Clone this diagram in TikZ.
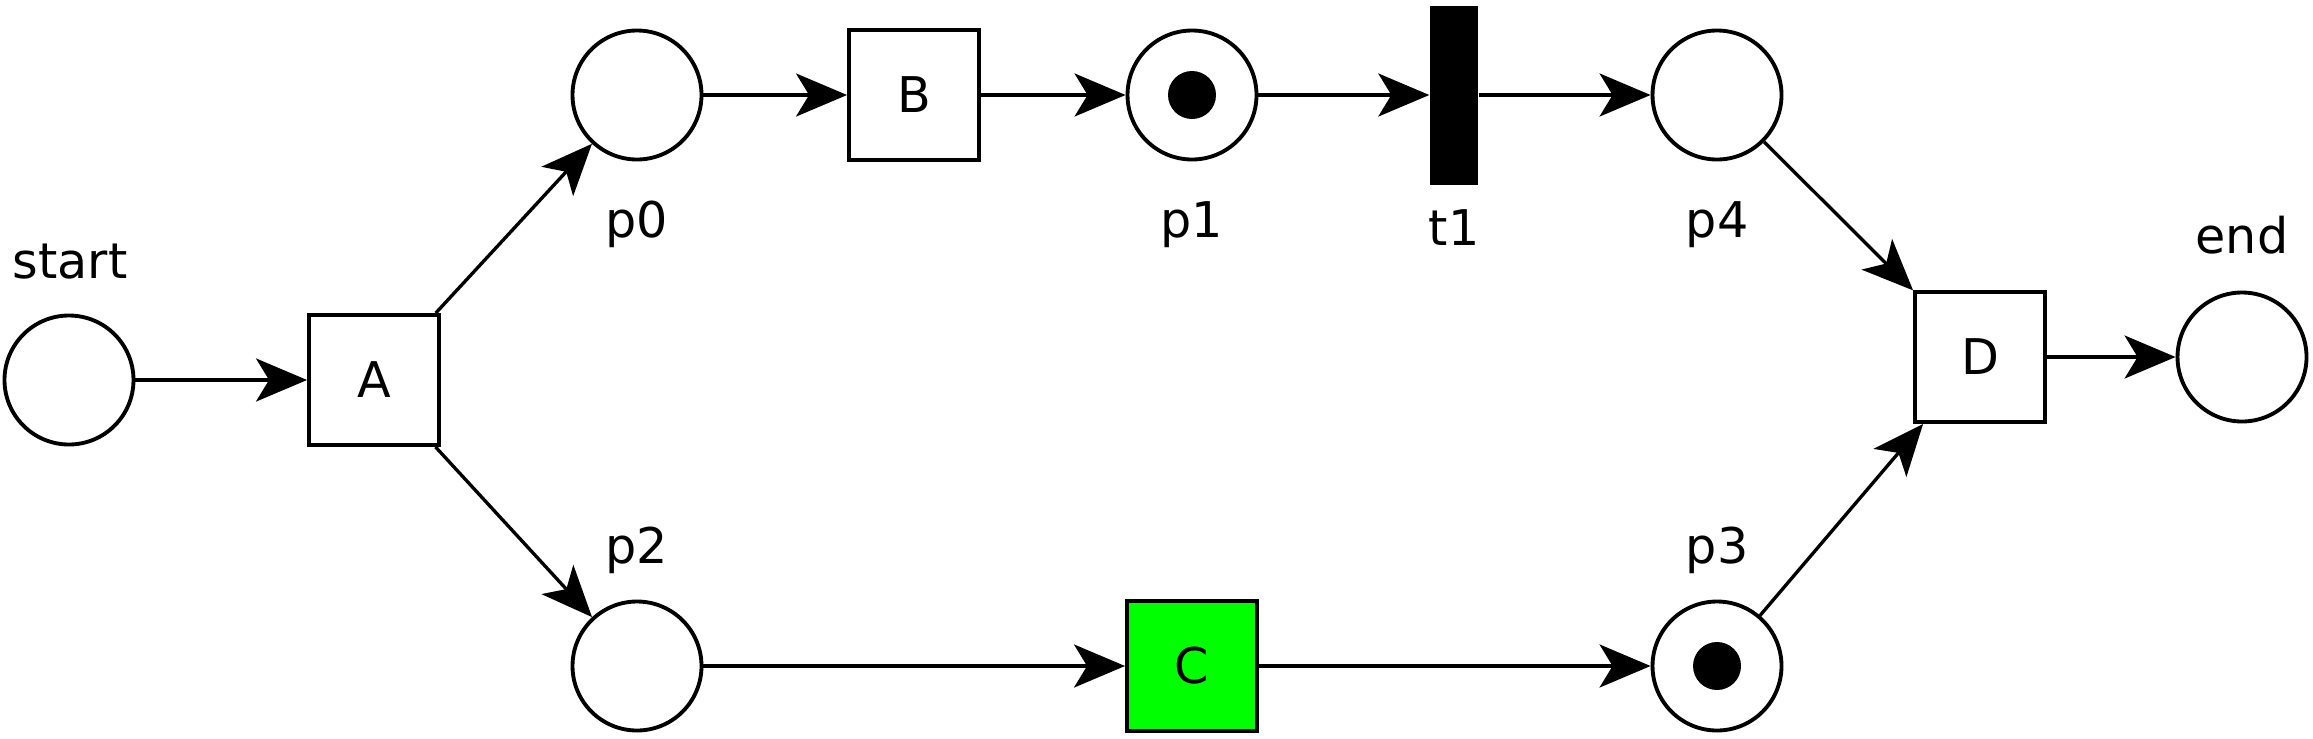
\documentclass[tikz,border=0pt]{standalone}
\usepackage{fontspec}
\setmainfont{DejaVu Sans}
\usetikzlibrary{arrows.meta}

\begin{document}
\begin{tikzpicture}[
  every node/.style={font=\fontsize{14}{17}\selectfont},
  place/.style={draw, circle, line width=1.1pt, minimum size=1.29cm, inner sep=0pt},
  trans/.style={draw, rectangle, line width=1.1pt, minimum size=1.30cm, inner sep=0pt},
  bar/.style={fill=black, minimum width=0.48cm, minimum height=1.79cm, inner sep=0pt},
  lbl/.style={anchor=base},
  arc/.style={line width=0.95pt, -{Stealth[length=0.51cm, width=0.43cm, inset=0.13cm]}}
]
\useasboundingbox (0,0) rectangle (23.13,7.38);
\node[place] (start) at (0.69,3.58) {};
\node[trans] (A) at (3.74,3.58) {A};
\node[place] (p0) at (6.37,6.43) {};
\node[trans] (B) at (9.14,6.43) {B};
\node[place] (p1) at (11.92,6.43) {};
\node[bar] (t1) at (14.54,6.43) {};
\node[place] (p4) at (17.17,6.43) {};
\node[trans] (D) at (19.80,3.81) {D};
\node[place] (end) at (22.42,3.81) {};
\node[place] (p2) at (6.37,0.72) {};
\node[trans, fill=green] (C) at (11.92,0.72) {C};
\node[place] (p3) at (17.17,0.72) {};
\fill (p1) circle (0.24);
\fill (p3) circle (0.24);
\node[lbl] (lstart) at (0.70,4.60) {start};
\node[lbl] (lp0) at (6.37,5.01) {p0};
\node[lbl] (lp1) at (11.92,5.01) {p1};
\node[lbl] (lt1) at (14.54,4.93) {t1};
\node[lbl] (lp4) at (17.17,5.01) {p4};
\node[lbl] (lend) at (22.42,4.85) {end};
\node[lbl] (lp2) at (6.37,1.75) {p2};
\node[lbl] (lp3) at (17.17,1.75) {p3};
\draw[arc] (start) -- (A);
\draw[arc] (A) -- (p0);
\draw[arc] (A) -- (p2);
\draw[arc] (p0) -- (B);
\draw[arc] (B) -- (p1);
\draw[arc] (p1) -- (t1);
\draw[arc] (t1) -- (p4);
\draw[arc] (p4) -- (D);
\draw[arc] (p3) -- (D);
\draw[arc] (D) -- (end);
\draw[arc] (p2) -- (C);
\draw[arc] (C) -- (p3);
\end{tikzpicture}
\end{document}
